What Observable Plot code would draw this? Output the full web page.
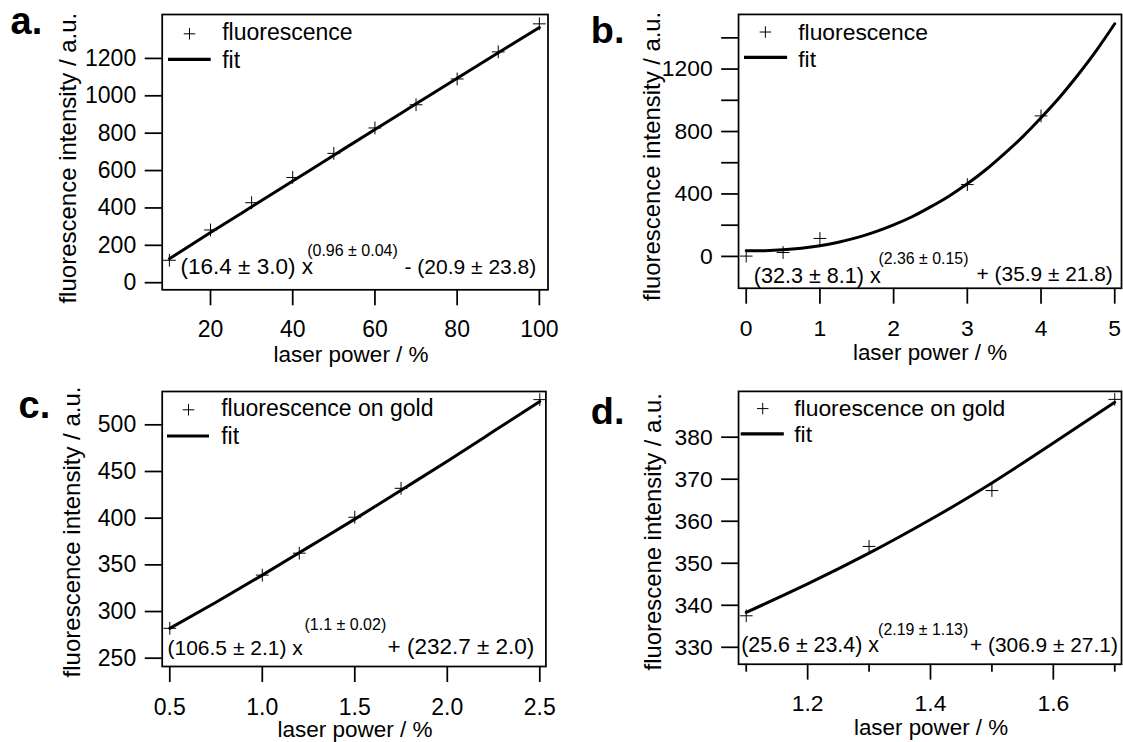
<!DOCTYPE html>
<html><head><meta charset="utf-8">
<script src="https://cdn.jsdelivr.net/npm/d3@7"></script>
<script src="https://cdn.jsdelivr.net/npm/@observablehq/plot@0.6"></script>
<style>
html,body{margin:0;padding:0;background:#fff;overflow:hidden}
#fig{position:relative;width:1123px;height:742px;overflow:hidden;background:#fff}
#fig > div{position:absolute}
</style></head><body><div id="fig"></div>
<script>
const FONT = "'Liberation Sans', Arial, Helvetica, sans-serif";

// ---------- data ----------
// panel a
const aPointX = [10, 20, 30, 40, 50, 60, 70, 80, 90, 100];
const aPointY = [120, 282, 428, 563, 692, 828, 952, 1090, 1235, 1385];
const aFitX = [10, 20, 30, 40, 50, 60, 70, 80, 90, 100];
const aFitY = [128, 268, 406, 544, 682, 820, 957, 1094, 1230, 1365];
const aXTicks = [20, 40, 60, 80, 100];
const aYTicks = [0, 200, 400, 600, 800, 1000, 1200];
// panel b
const bPointX = [0, 0.5, 1, 3, 4];
const bPointY = [2, 25, 115, 460, 900];
const bFitX = [0, 0.25, 0.5, 0.75, 1, 1.25, 1.5, 1.75, 2, 2.25, 2.5, 2.75, 3, 3.25, 3.5, 3.75, 4, 4.25, 4.5, 4.75, 5];
const bFitY = [36, 37, 42, 52, 68, 91, 120, 157, 202, 254, 317, 386, 465, 555, 657, 766, 888, 1018, 1162, 1318, 1490];
const bXTicks = [0, 1, 2, 3, 4, 5];
const bYTicks = [0, 200, 400, 600, 800, 1000, 1200, 1400];
const bYLabels = [0, 400, 800, 1200];
// panel c
const cPointX = [0.5, 1.0, 1.2, 1.5, 1.75, 2.5];
const cPointY = [282, 339, 362.5, 401, 432, 527];
const cFitX = [0.5, 0.75, 1, 1.25, 1.5, 1.75, 2, 2.25, 2.5];
const cFitY = [282, 310, 339, 369, 399, 430, 461, 493, 525];
const cXTicks = [0.5, 1.0, 1.5, 2.0, 2.5];
const cYTicks = [250, 300, 350, 400, 450, 500];
// panel d
const dPointX = [1.1, 1.3, 1.5, 1.7];
const dPointY = [337.5, 354, 367.3, 389];
const dFitX = [1.1, 1.2, 1.3, 1.4, 1.5, 1.6, 1.7];
const dFitY = [338.3, 345.1, 352.4, 360.4, 369.1, 378.6, 388.3];
const dXTicks = [1.2, 1.4, 1.6];
const dXMinor = [1.1, 1.3, 1.5, 1.7];
const dYTicks = [330, 340, 350, 360, 370, 380];

// ---------- texts ----------
const xTitle = "laser power / %";
const panels = [
  {label: "a.", left: 0, top: 0, width: 560, height: 371, ml: 161.7, mr: 12.5, mt: 14, mb: 81.7,
   xDomain: [8.25, 102.1], yDomain: [-38, 1435],
   px: aPointX, py: aPointY, fx: aFitX, fy: aFitY,
   xTicks: aXTicks, xFmt: d => String(d), yTicks: aYTicks, yFmt: d => String(d),
   yTitle: "fluorescence intensity / a.u.", legend: "fluorescence",
   eq: ["(16.4 ± 3.0) x", "(0.96 ± 0.04)", "- (20.9 ± 23.8)"], eqFs: [22.5, 16, 21],
   eqPos: [[18.3, -22.6], [145, -38.5], [242.3, -22.6]],
   lab: [10, 33], yT: [-93.4, 6], xT: [-4, 65], xPad: 15,
   leg: {plus: [27.3, 19.3], text: 60, t1: 18.3, line: [6.3, 49], ly: 45.3, t2: 46}},
  {label: "b.", left: 560, top: 0, width: 566, height: 371, ml: 179, mr: 2, mt: 14, mb: 81.7,
   xDomain: [-0.104, 5.092], yDomain: [-204, 1550],
   px: bPointX, py: bPointY, fx: bFitX, fy: bFitY,
   xTicks: bXTicks, xFmt: d => String(d), yTicks: bYTicks, yFmt: d => bYLabels.includes(d) ? String(d) : "",
   yTitle: "fluorescence intensity / a.u.", legend: "fluorescence",
   eq: ["(32.3 ± 8.1) x", "(2.36 ± 0.15)", "+ (35.9 ± 21.8)"], eqFs: [21.7, 16, 21],
   eqPos: [[15.3, -12.6], [140.6, -30], [239.3, -14.3]],
   lab: [30.5, 42.7], yT: [-87, 5], xT: [0, 65], xPad: 16,
   leg: {plus: [27, 17.7], text: 60, t1: 18, line: [6, 49.3], ly: 43.7, t2: 45}},
  {label: "c.", left: 0, top: 371, width: 560, height: 371, ml: 161.7, mr: 14.6, mt: 20, mb: 76,
   xDomain: [0.459, 2.533], yDomain: [241.1, 535.7],
   px: cPointX, py: cPointY, fx: cFitX, fy: cFitY,
   xTicks: cXTicks, xFmt: d3.format(".1f"), yTicks: cYTicks, yFmt: d => String(d),
   yTitle: "fluorescence intensity / a.u.", legend: "fluorescence on gold",
   eq: ["(106.5 ± 2.1) x", "(1.1 ± 0.02)", "+ (232.7 ± 2.0)"], eqFs: [21, 16, 22.5],
   eqPos: [[5.3, -18.3], [142.3, -42], [225.3, -19.3]],
   lab: [18, 46.7], yT: [-89.7, 3], xT: [1, 63.5], xPad: 16,
   leg: {plus: [26.3, 18.3], text: 59, t1: 17.3, line: [5.3, 47.3], ly: 45, t2: 45}},
  {label: "d.", left: 560, top: 371, width: 566, height: 371, ml: 179, mr: 2, mt: 20, mb: 76.7,
   xDomain: [1.0875, 1.711], yDomain: [325.97, 390.9],
   px: dPointX, py: dPointY, fx: dFitX, fy: dFitY,
   xTicks: dXTicks, xMinor: dXMinor, xFmt: d3.format(".1f"), yTicks: dYTicks, yFmt: d => String(d),
   yTitle: "fluorescene intensity / a.u.", legend: "fluorescence on gold",
   eq: ["(25.6 ± 23.4) x", "(2.19 ± 1.13)", "+ (306.9 ± 27.1)"], eqFs: [21.5, 16, 21],
   eqPos: [[2.7, -19.3], [140.3, -34.3], [232.7, -19.3]],
   lab: [30.5, 53], yT: [-85.5, 4], xT: [1, 64], xPad: 15,
   leg: {plus: [24.3, 17.3], text: 56, t1: 17.3, line: [2.7, 46], ly: 43.3, t2: 44}}
];

function legendLine(x1, x2, y) {
  return (index, scales, values, dims) => {
    const l = d3.create("svg:line")
      .attr("x1", dims.marginLeft + x1).attr("x2", dims.marginLeft + x2)
      .attr("y1", dims.marginTop + y).attr("y2", dims.marginTop + y)
      .attr("stroke", "black").attr("stroke-width", 3.2);
    return l.node();
  };
}

function makePanel(p) {
  const pts = p.px.map((x, i) => ({x, y: p.py[i]}));
  const fit = p.fx.map((x, i) => ({x, y: p.fy[i]}));
  const txt = (s, o) => Plot.text([s], {text: d => d, fill: "black", ...o});
  const marks = [
    Plot.frame({stroke: "black", strokeWidth: 1.75}),
    Plot.axisY(p.yTicks, {tickSize: 17, tickPadding: 9, fontSize: 23, tickFormat: p.yFmt, label: null, strokeWidth: 1.75}),
    Plot.axisX(p.xTicks, {tickSize: 16, tickPadding: p.xPad, fontSize: 23, tickFormat: p.xFmt, label: null, strokeWidth: 1.75}),
  ];
  if (p.xMinor) marks.push(Plot.axisX(p.xMinor, {tickSize: 8, tickFormat: () => "", label: null, strokeWidth: 1.75}));
  marks.push(
    Plot.line(fit, {x: "x", y: "y", stroke: "black", strokeWidth: 3, curve: "natural"}),
    Plot.dot(pts, {x: "x", y: "y", symbol: "plus", r: 4.2, stroke: "black", strokeWidth: 1}),
    // legend
    Plot.dot([0], {frameAnchor: "top-left", dx: p.leg.plus[0], dy: p.leg.plus[1], symbol: "plus", r: 3.8, stroke: "black", strokeWidth: 1}),
    txt(p.legend, {frameAnchor: "top-left", dx: p.leg.text, dy: p.leg.t1, textAnchor: "start", lineAnchor: "middle", fontSize: 23}),
    legendLine(p.leg.line[0], p.leg.line[1], p.leg.ly),
    txt("fit", {frameAnchor: "top-left", dx: p.leg.text, dy: p.leg.t2, textAnchor: "start", lineAnchor: "middle", fontSize: 23}),
    // equation
    txt(p.eq[0], {frameAnchor: "bottom-left", dx: p.eqPos[0][0], dy: p.eqPos[0][1], textAnchor: "start", lineAnchor: "middle", fontSize: p.eqFs[0]}),
    txt(p.eq[1], {frameAnchor: "bottom-left", dx: p.eqPos[1][0], dy: p.eqPos[1][1], textAnchor: "start", lineAnchor: "middle", fontSize: p.eqFs[1]}),
    txt(p.eq[2], {frameAnchor: "bottom-left", dx: p.eqPos[2][0], dy: p.eqPos[2][1], textAnchor: "start", lineAnchor: "middle", fontSize: p.eqFs[2]}),
    // axis titles
    txt(p.yTitle, {frameAnchor: "left", rotate: -90, dx: p.yT[0], dy: p.yT[1], textAnchor: "middle", lineAnchor: "middle", fontSize: 24}),
    txt(xTitle, {frameAnchor: "bottom", dx: p.xT[0], dy: p.xT[1], textAnchor: "middle", lineAnchor: "middle", fontSize: 22.5}),
    // panel label
    txt(p.label, {frameAnchor: "top-left", dx: p.lab[0] - p.ml, dy: p.lab[1] - p.mt, textAnchor: "start", lineAnchor: "bottom", fontSize: 38, fontWeight: "bold"})
  );
  return Plot.plot({
    width: p.width, height: p.height,
    marginLeft: p.ml, marginRight: p.mr, marginTop: p.mt, marginBottom: p.mb,
    style: {fontFamily: FONT, background: "transparent", overflow: "visible", color: "black"},
    x: {domain: p.xDomain, label: null},
    y: {domain: p.yDomain, label: null},
    marks
  });
}

const fig = document.getElementById("fig");
for (const p of panels) {
  const holder = document.createElement("div");
  holder.style.left = p.left + "px";
  holder.style.top = p.top + "px";
  holder.appendChild(makePanel(p));
  fig.appendChild(holder);
}
</script></body></html>
